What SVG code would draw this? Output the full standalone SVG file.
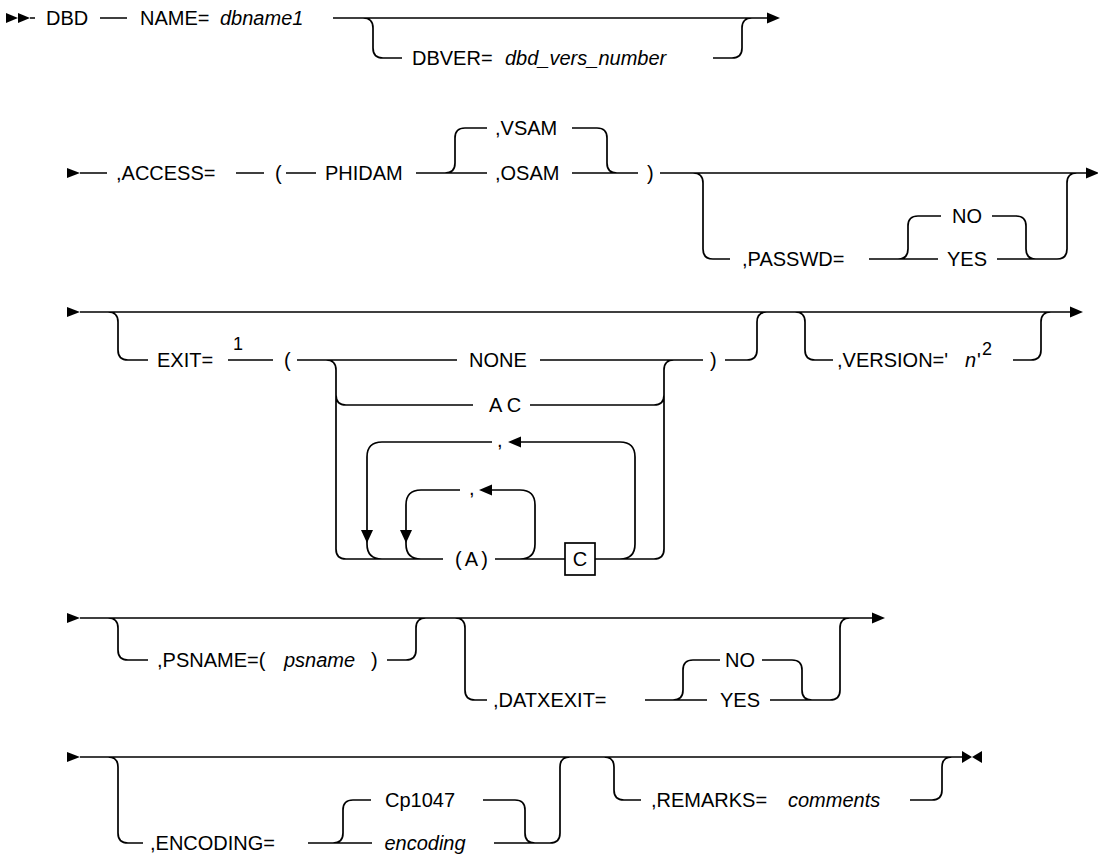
<svg xmlns="http://www.w3.org/2000/svg" width="1098" height="858" viewBox="0 0 1098 858">
<style>
.c{fill:none;stroke:#000;stroke-width:1.7}
.a{fill:#000;stroke:none}
text{font-family:"Liberation Sans",Arial,sans-serif;font-size:20px;fill:#000}
.i{font-style:italic}
.m{text-anchor:middle}
.s{font-size:18px}
.box{fill:#fff;stroke:#000;stroke-width:1.7}
</style>
<rect width="1098" height="858" fill="#fff"/>
<g id="connectors">
<path class="c" d="M30,18H35M100,18H127M333,18H767M363,18Q373,18 373,28V48Q373,58 383,58H402M713,58H732Q742,58 742,48V28Q742,18 752,18"/>
<path class="c" d="M80,173H107M236,173H264M286,173H316M416,173H487M445,173Q455,173 455,163V138Q455,128 465,128H487M572,173H638M572,128H597Q607,128 607,138V163Q607,173 617,173M660,173H1088M693,173Q703,173 703,183V249Q703,259 713,259H730M869,259H938M898,259Q908,259 908,249V226Q908,216 918,216H941M992,216H1016Q1026,216 1026,226V249Q1026,259 1036,259M997,259H1057Q1067,259 1067,249V183Q1067,173 1077,173"/>
<path class="c" d="M80,312H1072M108,312Q118,312 118,322V350Q118,360 128,360H148M228,360H273M297,360H457M540,360H703M326,360Q336,360 336,370V549Q336,559 346,559H443M336,395Q336,405 346,405H473M530,405H654Q664,405 664,395M654,559Q664,559 664,549V370Q664,360 674,360M495,559H565M595,559H654M620,559Q635,559 635,544V457Q635,442 620,442H521M492,442H382Q367,442 367,457V544Q367,559 382,559M520,559Q535,559 535,544V505Q535,490 520,490H492M460,490H421Q406,490 406,505V544Q406,559 421,559M725,360H747Q757,360 757,350V322Q757,312 767,312M795,312Q805,312 805,322V350Q805,360 815,360H833M1013,360H1031Q1041,360 1041,350V322Q1041,312 1051,312"/>
<path class="c" d="M80,618H874M108,618Q118,618 118,628V650Q118,660 128,660H148M387,660H406Q416,660 416,650V628Q416,618 426,618M455,618Q465,618 465,628V690Q465,700 475,700H487M645,700H707M673,700Q683,700 683,690V670Q683,660 693,660H720M762,660H792Q802,660 802,670V690Q802,700 812,700M770,700H830Q840,700 840,690V628Q840,618 850,618"/>
<path class="c" d="M80,757H963M108,757Q118,757 118,767V833Q118,843 128,843H143M308,843H372M333,843Q343,843 343,833V810Q343,800 353,800H371M483,800H515Q525,800 525,810V833Q525,843 535,843M494,843H550Q560,843 560,833V767Q560,757 570,757M604,757Q614,757 614,767V790Q614,800 624,800H641M910,800H932Q942,800 942,790V767Q942,757 952,757"/>
<polygon class="a" points="6,13 18,18 6,23"/>
<polygon class="a" points="18,13 30,18 18,23"/>
<polygon class="a" points="767,12.5 780,18 767,23.5"/>
<polygon class="a" points="67,168 80,173 67,178"/>
<polygon class="a" points="1086,167.5 1099,173 1086,178.5"/>
<polygon class="a" points="67,307 80,312 67,317"/>
<polygon class="a" points="1070,306.5 1083,312 1070,317.5"/>
<polygon class="a" points="508,442 521,436.5 521,447.5"/>
<polygon class="a" points="479,490 492,484.5 492,495.5"/>
<polygon class="a" points="361,530 373,530 367,543"/>
<polygon class="a" points="400,530 412,530 406,543"/>
<polygon class="a" points="67,613 80,618 67,623"/>
<polygon class="a" points="872,612.5 885,618 872,623.5"/>
<polygon class="a" points="67,752 80,757 67,762"/>
<polygon class="a" points="962,751 972,757 962,763"/>
<polygon class="a" points="982,751 972,757 982,763"/>
</g>
<g id="n-dbd"><text x="46" y="25">DBD</text></g>
<g id="n-name"><text x="140" y="25">NAME=</text><text class="i" x="220" y="25">dbname1</text></g>
<g id="n-dbver"><text x="412" y="65">DBVER=</text><text class="i" x="505" y="65">dbd_vers_number</text></g>
<g id="n-access"><text x="116" y="180">,ACCESS=</text><text x="275" y="180">(</text><text x="325" y="180">PHIDAM</text></g>
<g id="n-vsam"><text x="495" y="135">,VSAM</text></g>
<g id="n-osam"><text x="495" y="180">,OSAM</text></g>
<g id="n-access-close"><text x="647" y="180">)</text></g>
<g id="n-passwd"><text x="742" y="266">,PASSWD=</text></g>
<g id="n-passwd-no"><text class="m" x="967" y="223">NO</text></g>
<g id="n-passwd-yes"><text class="m" x="967" y="266">YES</text></g>
<g id="n-exit"><text x="157" y="367">EXIT=</text><text class="s" x="233" y="350">1</text><text x="284" y="367">(</text></g>
<g id="n-none"><text class="m" x="498" y="367">NONE</text></g>
<g id="n-exit-close"><text x="710" y="367">)</text></g>
<g id="n-ac"><text class="m" x="505" y="412">A C</text></g>
<g id="n-sep-outer"><text x="497" y="447">,</text></g>
<g id="n-sep-inner"><text x="469" y="495">,</text></g>
<g id="n-a"><text x="455" y="566" textLength="33" lengthAdjust="spacing">(A)</text></g>
<g id="n-c"><rect class="box" x="565" y="543" width="30" height="32"/><text class="m" x="580" y="566">C</text></g>
<g id="n-version"><text x="837" y="367">,VERSION='</text><text class="i" x="965" y="367">n</text><text x="977" y="367">'</text><text class="s" x="982" y="355">2</text></g>
<g id="n-psname"><text x="157" y="667">,PSNAME=(</text><text class="i" x="284" y="667">psname</text><text x="371" y="667">)</text></g>
<g id="n-datxexit"><text x="493" y="707">,DATXEXIT=</text></g>
<g id="n-datx-no"><text class="m" x="740" y="667">NO</text></g>
<g id="n-datx-yes"><text class="m" x="740" y="707">YES</text></g>
<g id="n-encoding"><text x="150" y="850">,ENCODING=</text></g>
<g id="n-cp1047"><text class="m" x="420" y="807">Cp1047</text></g>
<g id="n-encoding-var"><text class="m i" x="425" y="850">encoding</text></g>
<g id="n-remarks"><text x="651" y="807">,REMARKS=</text><text class="i" x="788" y="807">comments</text></g>
</svg>
